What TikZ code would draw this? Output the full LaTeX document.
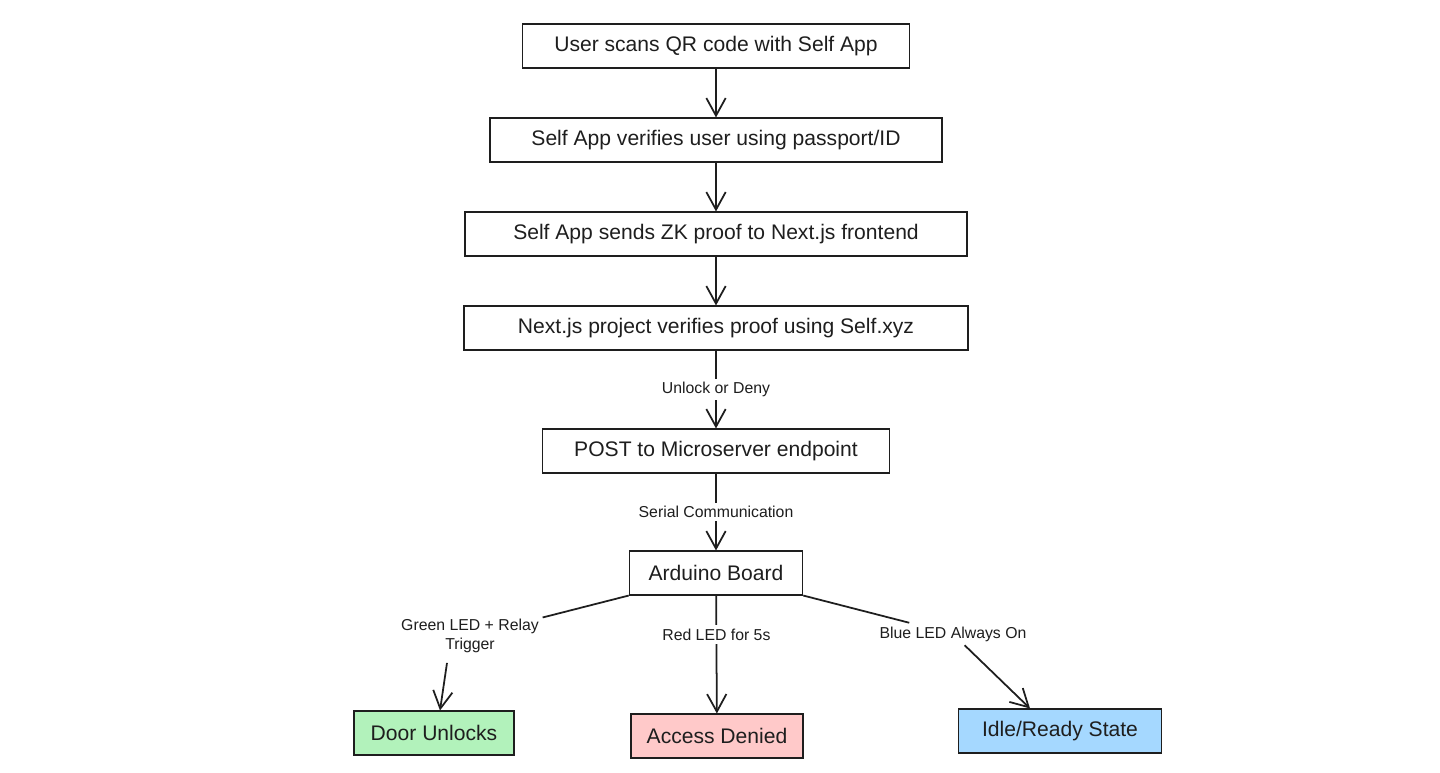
\documentclass[tikz,border=0pt]{standalone}
\usepackage{fontspec}
\setmainfont{Liberation Sans}
\usepackage{tikz}
\usetikzlibrary{arrows.meta, calc}
\usepackage{xcolor}
\definecolor{ink}{HTML}{1E1E1E}
\definecolor{okgreen}{HTML}{B2F2BB}
\definecolor{denyred}{HTML}{FFC9C9}
\definecolor{idleblue}{HTML}{A5D8FF}

\begin{document}
\begin{tikzpicture}[x=0.02cm, y=-0.02cm,
    box/.style={draw=ink, line width=0.9pt, minimum height=0.87cm, inner sep=0pt, text=ink, font=\fontsize{12}{14}\selectfont},
    arr/.style={draw=ink, line width=1pt, -{Straight Barb[length=10pt, width=11pt, line width=1pt]}},
    lbl/.style={fill=white, text=ink, font=\fontsize{9}{11}\selectfont, align=center, inner sep=2pt}]
        \useasboundingbox (0,0) rectangle (1440,773); % page
        % main chain
        \node[box, minimum width=7.74cm] (scan) at (716,46) {User scans QR code with Self App};
        \node[box, minimum width=9.04cm] (verify) at (716,140) {Self App verifies user using passport/ID};
        \node[box, minimum width=10.04cm] (send) at (716,234) {Self App sends ZK proof to Next.js frontend};
        \node[box, minimum width=10.08cm] (nextjs) at (716,328) {Next.js project verifies proof using Self.xyz};
        \node[box, minimum width=6.94cm] (post) at (716,451) {POST to Microserver endpoint};
        \node[box, minimum width=3.46cm] (board) at (716,573) {Arduino Board};
        % outcomes
        \node[box, minimum width=3.2cm, fill=okgreen] (door) at (434,733) {Door Unlocks};
        \node[box, minimum width=3.44cm, fill=denyred] (denied) at (717,736) {Access Denied};
        \node[box, minimum width=4.06cm, fill=idleblue] (idle) at (1060,731) {Idle/Ready State};
        \draw[arr] (scan) -- (verify);
        \draw[arr] (verify) -- (send);
        \draw[arr] (send) -- (nextjs);
        \draw[arr] (nextjs) -- node[lbl] {Unlock or Deny} (post);
        \draw[arr] (post) -- node[lbl] {Serial Communication} (board);
        % branches
        \node[lbl] (green) at (470,636) {Green LED + Relay\\Trigger};
        \node[lbl] (blue) at (953,634) {Blue LED Always On};
        \draw[draw=ink, line width=1pt] (board.south west) -- (green); % to label
        \draw[arr] ($(green.south)+(-23,6)$) -- ($(door.north)+(6,0)$);
        \draw[arr] (board) -- node[lbl, pos=0.33] {Red LED for 5s} (denied);
        \draw[arr] (board.south east) -- (blue) -- ($(idle.north)+(-30,0)$);
    \end{tikzpicture}
\end{document}
